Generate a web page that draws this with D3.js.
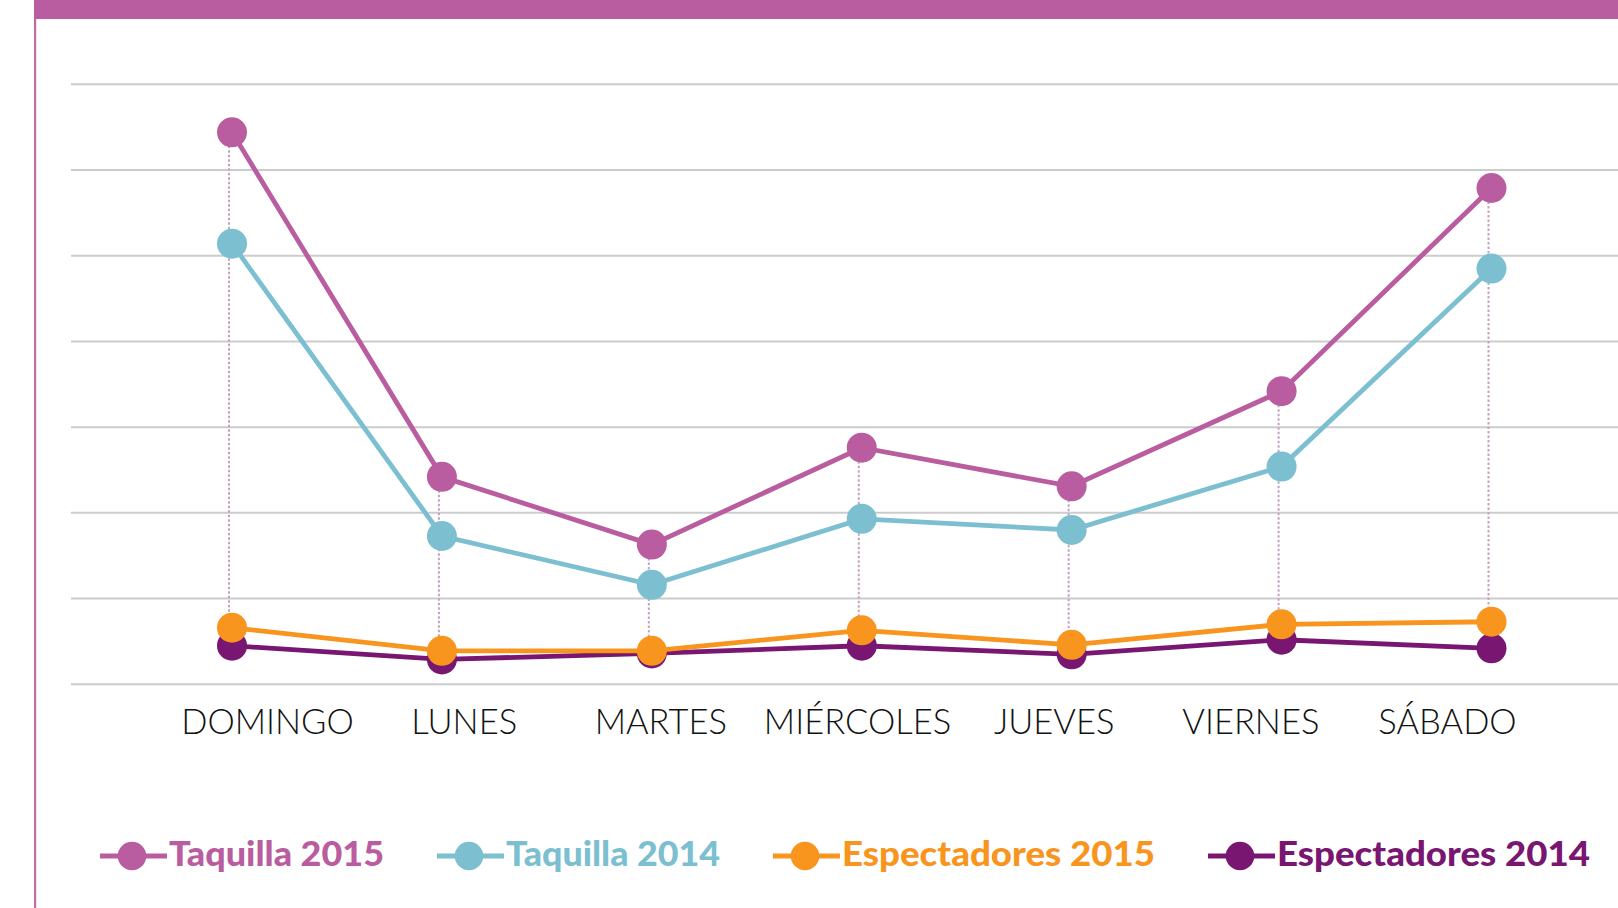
<!DOCTYPE html>
<html>
<head>
<meta charset="utf-8">
<script src="https://cdn.jsdelivr.net/npm/d3@7"></script>
<style>
  html, body { margin: 0; background: #fff; }
  svg { display: block; }
</style>
</head>
<body>
<svg id="chart" width="1618" height="908"></svg>
<script>
// values, in gridline units (no y labels on the original)
const days = ["DOMINGO", "LUNES", "MARTES", "MIÉRCOLES", "JUEVES", "VIERNES", "SÁBADO"];
const taquilla2015 = [6.44, 2.42, 1.63, 2.76, 2.31, 3.42, 5.79];
const taquilla2014 = [5.14, 1.73, 1.16, 1.93, 1.80, 2.54, 4.85];
const espectadores2015 = [0.66, 0.39, 0.39, 0.63, 0.46, 0.70, 0.73];
const espectadores2014 = [0.45, 0.29, 0.36, 0.45, 0.35, 0.52, 0.42];
const gridTicks = [0, 1, 2, 3, 4, 5, 6, 7];
const seriesNames = ["Taquilla 2015", "Taquilla 2014", "Espectadores 2015", "Espectadores 2014"];

const W = 1618, H = 908;
const colors = {
  "Taquilla 2015": "#b95da0",
  "Taquilla 2014": "#7bbfd1",
  "Espectadores 2015": "#f8951f",
  "Espectadores 2014": "#781671",
};
const seriesValues = {
  "Taquilla 2015": taquilla2015,
  "Taquilla 2014": taquilla2014,
  "Espectadores 2015": espectadores2015,
  "Espectadores 2014": espectadores2014,
};
// the original legend face is wider than Lato at the same cap height
const legendWidths = [215, 214, 313, 313];

const svg = d3.select("#chart");

const x = d3.scalePoint().domain(days).range([232, 1491.5]);
const xLabel = d3.scalePoint().domain(days).range([267, 1447]);
const y = d3.scaleLinear().domain([0, 7]).range([684.3, 84.3]);

// frame: top bar + left rule
svg.append("rect")
  .attr("x", 34).attr("y", 0)
  .attr("width", W - 34).attr("height", 19)
  .attr("fill", "#b95da0");
svg.append("rect")
  .attr("x", 34).attr("y", 19)
  .attr("width", 2.2).attr("height", H - 19)
  .attr("fill", "#c06aa8");

// gridlines
svg.append("g")
  .selectAll("line")
  .data(gridTicks)
  .join("line")
  .attr("x1", 71).attr("x2", W)
  .attr("y1", d => y(d)).attr("y2", d => y(d))
  .attr("stroke", "#cccccc")
  .attr("stroke-width", 2);

// dotted drop lines
svg.append("g")
  .selectAll("line")
  .data(days)
  .join("line")
  .attr("x1", d => x(d) - 3).attr("x2", d => x(d) - 3)
  .attr("y1", (d, i) => y(taquilla2015[i]))
  .attr("y2", (d, i) => y(espectadores2014[i]))
  .attr("stroke", "#c4a3c0")
  .attr("stroke-width", 2)
  .attr("stroke-dasharray", "2.5 2");

// series, bottom first so that orange sits over purple
const drawOrder = ["Espectadores 2014", "Espectadores 2015", "Taquilla 2014", "Taquilla 2015"];
const line = d3.line().x((v, i) => x(days[i])).y(v => y(v));

drawOrder.forEach(name => {
  const vals = seriesValues[name];
  const g = svg.append("g");
  g.append("path")
    .datum(vals)
    .attr("fill", "none")
    .attr("stroke", colors[name])
    .attr("stroke-width", 4.8)
    .attr("d", line);
  g.selectAll("circle")
    .data(vals)
    .join("circle")
    .attr("cx", (v, i) => x(days[i]))
    .attr("cy", v => y(v))
    .attr("r", 15)
    .attr("fill", colors[name]);
});

// day labels
const axis = svg.append("g")
  .attr("transform", "translate(0,709)")
  .call(d3.axisBottom(xLabel).tickSize(0).tickPadding(0));
axis.select(".domain").remove();
axis.selectAll("text")
  .attr("dy", "0.72em")
  .attr("fill", "#111")
  .style("font-family", "Lato, 'Open Sans', sans-serif")
  .style("font-weight", 300)
  .style("font-size", "34.5px");

// legend
const legend = svg.append("g").attr("transform", "translate(100,856)");
let lx = 0;
seriesNames.forEach((name, i) => {
  const item = legend.append("g").attr("transform", `translate(${lx},0)`);
  item.append("line")
    .attr("x1", 0).attr("x2", 67)
    .attr("y1", 0).attr("y2", 0)
    .attr("stroke", colors[name])
    .attr("stroke-width", 5);
  item.append("circle")
    .attr("cx", 32).attr("cy", 0)
    .attr("r", 14.3)
    .attr("fill", colors[name]);
  item.append("text")
    .attr("x", 69).attr("y", 10)
    .attr("fill", colors[name])
    .attr("textLength", legendWidths[i])
    .attr("lengthAdjust", "spacingAndGlyphs")
    .style("font-family", "Lato, 'Open Sans', sans-serif")
    .style("font-weight", 900)
    .style("font-size", "33.5px")
    .text(name);
  lx += 69 + legendWidths[i] + 53;
});
</script>
</body>
</html>
